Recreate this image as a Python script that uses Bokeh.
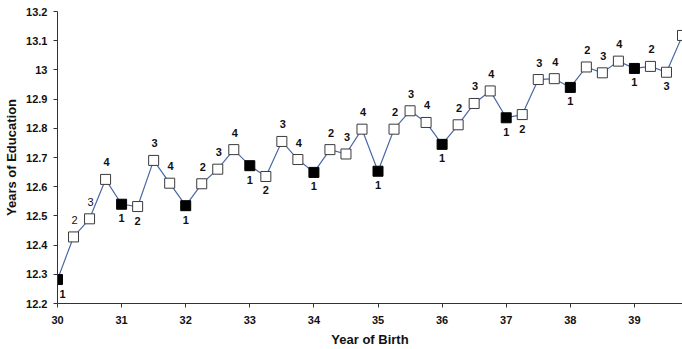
from bokeh.plotting import figure
from bokeh.models import Range1d, ColumnDataSource, FixedTicker, CustomJSTickFormatter
from bokeh.core.properties import value
from bokeh.embed import file_html
from bokeh.resources import INLINE

year = [30.0, 30.25, 30.5, 30.75, 31.0, 31.25, 31.5, 31.75, 32.0, 32.25, 32.5, 32.75,
        33.0, 33.25, 33.5, 33.75, 34.0, 34.25, 34.5, 34.75, 35.0, 35.25, 35.5, 35.75,
        36.0, 36.25, 36.5, 36.75, 37.0, 37.25, 37.5, 37.75, 38.0, 38.25, 38.5, 38.75,
        39.0, 39.25, 39.5, 39.75]
educ = [12.282, 12.428, 12.49, 12.625, 12.54, 12.532, 12.69, 12.612, 12.535, 12.61, 12.66, 12.727,
        12.672, 12.635, 12.755, 12.693, 12.649, 12.727, 12.712, 12.797, 12.653, 12.797, 12.86, 12.82,
        12.745, 12.812, 12.885, 12.928, 12.836, 12.847, 12.967, 12.97, 12.94, 13.01, 12.99, 13.03,
        13.005, 13.012, 12.992, 13.118]
quarter = ["1", "2", "3", "4", "1", "2", "3", "4", "1", "2", "3", "4",
           "1", "2", "3", "4", "1", "2", "3", "4", "1", "2", "3", "4",
           "1", "2", "3", "4", "1", "2", "3", "4", "1", "2", "3", "4",
           "1", "2", "3", ""]
y_ticks = [12.2, 12.3, 12.4, 12.5, 12.6, 12.7, 12.8, 12.9, 13.0, 13.1, 13.2]
x_ticks = [30, 31, 32, 33, 34, 35, 36, 37, 38, 39]

# label placement (style): 'a' above, 'b' below
side = ["b", "a", "a", "a", "b", "b", "a", "a", "b", "a", "a", "a",
        "b", "b", "a", "a", "b", "a", "a", "a", "b", "a", "a", "a",
        "b", "a", "a", "a", "b", "b", "a", "a", "b", "a", "a", "a",
        "b", "a", "b", "a"]
weight = ["bold", "normal", "normal"] + ["bold"] * (len(year) - 3)

x_off = []
y_off = []
for i, s in enumerate(side):
    if s == "a":
        x_off.append(1)
        y_off.append(-17)
    else:
        x_off.append(5 if i == 0 else 0)
        y_off.append(14)

FONT = "Liberation Sans"

p = figure(width=682, height=349, output_backend="svg", toolbar_location=None,
           x_range=Range1d(30, 39.75), y_range=Range1d(12.2, 13.2),
           min_border_left=57, min_border_right=0, min_border_top=11, min_border_bottom=46)
p.outline_line_color = None
p.xgrid.grid_line_color = None
p.ygrid.grid_line_color = None
p.background_fill_color = "white"

src = ColumnDataSource(dict(x=year, y=educ, q=quarter, xo=x_off, yo=y_off, w=weight))
open_idx = [i for i, q in enumerate(quarter) if q != "1"]
fill_idx = [i for i, q in enumerate(quarter) if q == "1"]
src_open = ColumnDataSource(dict(x=[year[i] for i in open_idx], y=[educ[i] for i in open_idx]))
src_fill = ColumnDataSource(dict(x=[year[i] for i in fill_idx], y=[educ[i] for i in fill_idx]))

p.line("x", "y", source=src, line_color="#4a68a6", line_width=1.2)
p.scatter("x", "y", source=src_open, marker="square", size=10,
          fill_color="white", line_color="#3a3a3a", line_width=1)
p.scatter("x", "y", source=src_fill, marker="square", size=10,
          fill_color="black", line_color="black", line_width=1)
p.text("x", "y", text="q", source=src, x_offset="xo", y_offset="yo",
       text_align="center", text_baseline="middle", text_font=value(FONT),
       text_font_style="w", text_font_size="11px", text_color="#111111")

for ax in (p.xaxis[0], p.yaxis[0]):
    ax.axis_line_color = "#333333"
    ax.major_tick_line_color = "#333333"
    ax.major_tick_out = 4
    ax.major_tick_in = 0
    ax.minor_tick_line_color = None
    ax.major_label_text_font = FONT
    ax.major_label_text_font_style = "bold"
    ax.major_label_text_font_size = "11px"
    ax.major_label_text_color = "#111111"
    ax.axis_label_text_font = FONT
    ax.axis_label_text_font_style = "bold"
    ax.axis_label_text_font_size = "13px"
    ax.axis_label_text_color = "#111111"

p.xaxis[0].ticker = FixedTicker(ticks=x_ticks)
p.yaxis[0].ticker = FixedTicker(ticks=y_ticks)
p.yaxis[0].formatter = CustomJSTickFormatter(code="return String(Number(tick.toFixed(1)));")
p.xaxis[0].axis_label = "Year of Birth"
p.yaxis[0].axis_label = "Years of Education"
p.xaxis[0].major_label_standoff = 8
p.xaxis[0].axis_label_standoff = 5
p.yaxis[0].major_label_standoff = 6
p.yaxis[0].axis_label_standoff = 4

open("out.html", "w").write(file_html(p, INLINE))
